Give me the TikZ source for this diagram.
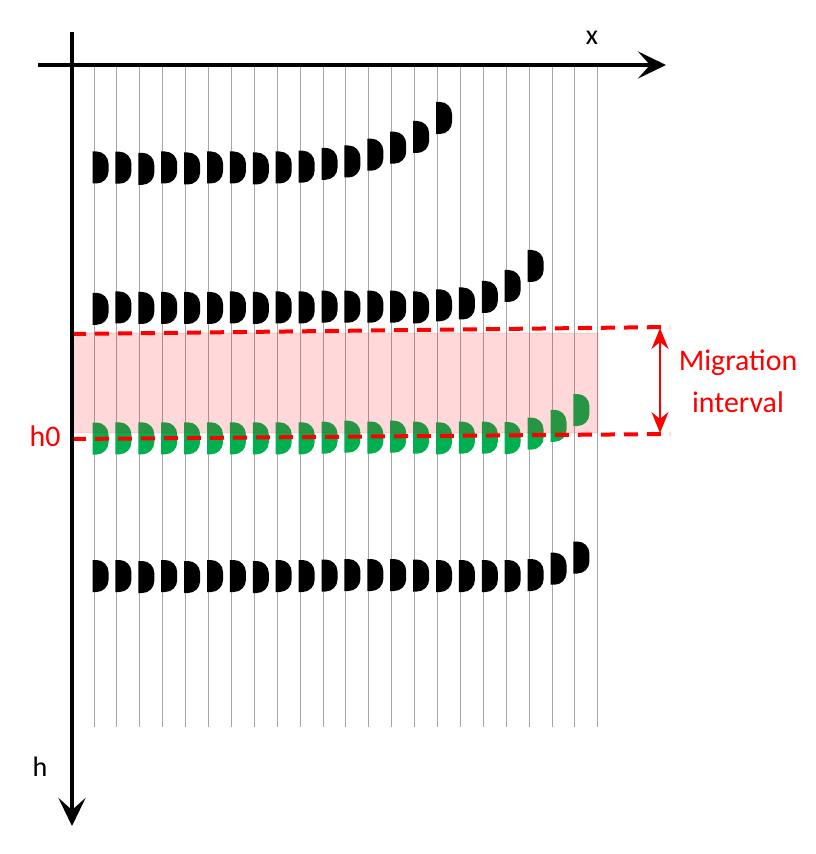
\documentclass[tikz,border=0pt]{standalone}
\usepackage{fontspec}
\setmainfont{Carlito}
\usetikzlibrary{arrows.meta}
\definecolor{migred}{RGB}{255,0,0}
\definecolor{mkgreen}{RGB}{0,176,80}
\definecolor{gridgray}{RGB}{166,166,166}
\tikzset{
  axis/.style={
    line width=0.08cm,
    draw=black,
    -{Stealth[length=0.56cm,width=0.54cm,inset=0.24cm]}
  },
  gridline/.style={draw=gridgray, line width=0.02cm},
  bound/.style={
    draw=migred,
    line width=0.08cm,
    dash pattern=on 0.28cm off 0.18cm
  },
  band/.style={
    fill=migred,
    fill opacity=0.15,
    draw=migred,
    draw opacity=0.06,
    line width=0.03cm
  },
  intervalarrow/.style={
    draw=migred,
    line width=0.04cm,
    {Stealth[length=0.42cm,width=0.34cm,inset=0.14cm]}-{Stealth[length=0.42cm,width=0.34cm,inset=0.14cm]}
  },
  axislabel/.style={font=\fontsize{16}{19}\selectfont, inner sep=0pt},
  redlabel/.style={font=\fontsize{17}{23.7}\selectfont, text=migred, inner sep=0pt},
  dmark/.pic={
    \path[pic actions] (0,-16) [rounded corners=0.24cm] -- (16,-16) -- (16,16) [sharp corners] -- (0,16) -- cycle;
  }
}

\begin{document}
\begin{tikzpicture}[x=0.02cm, y=-0.02cm]
  \useasboundingbox (0,0) rectangle (815,854);

  % vertical grid
  \foreach \i in {0,...,22}
    \draw[gridline] ({94+22.9*\i},65) -- ({94+22.9*\i},727);

  % rows of marks
  \foreach \y [count=\i from 0] in {167.5,167.7,168.8,167.5,168.5,167.5,167.5,168.5,167.5,166.7,163.8,161.5,154.7,147.7,137,118}
    \pic[fill=black] at ({92.5+22.9*\i},\y) {dmark};
  \foreach \y [count=\i from 0] in {308.8,307.5,308,308,308,308,307.5,308,307.5,307.5,306.7,306.7,306.7,306.7,307.5,305.3,303.5,297,286,266}
    \pic[fill=black] at ({92.5+22.9*\i},\y) {dmark};
  \foreach \y [count=\i from 0] in {438.5,438.3,438.3,438.3,438.3,438.3,438.3,438.3,438.3,438.3,437.7,436.7,437.5,436.7,437.7,438.3,437.7,437.7,438,433.6,425.8,410}
    \pic[fill=mkgreen] at ({92.5+22.9*\i},\y) {dmark};
  \foreach \y [count=\i from 0] in {576,576,577,576,577,576,576,577,576,576,575.5,575,575,575,575.5,576,576,576,576,575,568.7,557.5}
    \pic[fill=black] at ({92.5+22.9*\i},\y) {dmark};

  % migration band
  \fill[band] (72,333) rectangle (598,433);

  \coordinate (top-l) at (72,334);
  \coordinate (top-r) at (670,327);
  \coordinate (bot-l) at (72,439);
  \coordinate (bot-r) at (670,434);
  \draw[bound] (top-l) -- (top-r);
  \draw[bound] (bot-l) -- (bot-r);

  \coordinate (int-top) at (660,328);
  \coordinate (int-bot) at (660,433);
  \draw[intervalarrow] (int-top) -- (int-bot);

  \node[redlabel, align=center] (interval) at (738,381) {Migration\\interval};
  \node[redlabel] (h0) at (45,436) {h0};

  % axes
  \coordinate (x-start) at (38,65);
  \coordinate (x-end) at (666,65);
  \coordinate (h-start) at (72,32);
  \coordinate (h-end) at (72,826);
  \draw[axis] (x-start) -- (x-end);
  \draw[axis] (h-start) -- (h-end);
  \node[axislabel] (xlabel) at (592,38) {x};
  \node[axislabel] (hlabel) at (40,767) {h};
\end{tikzpicture}
\end{document}
